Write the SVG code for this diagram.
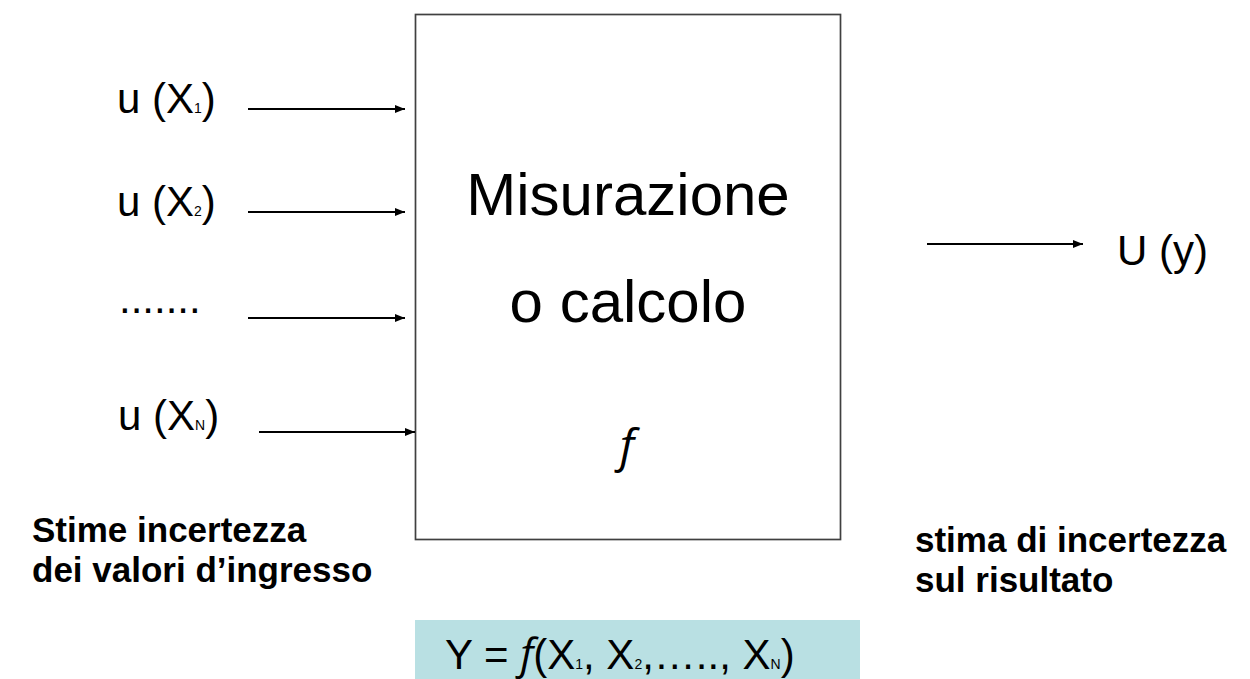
<svg xmlns="http://www.w3.org/2000/svg" width="1250" height="679" viewBox="0 0 1250 679">
<defs>
<marker id="ah" markerWidth="10" markerHeight="8" refX="10" refY="4" orient="auto" markerUnits="userSpaceOnUse">
<path d="M0,0 L10,4 L0,8 Z" fill="#000"/>
</marker>
<style>
.lbl{font-family:"Liberation Sans",Arial,sans-serif;font-size:42px;fill:#000}
.sub{font-size:14px}
.big{font-family:"Liberation Sans",Arial,sans-serif;font-size:60px;fill:#000;text-anchor:middle}
.bold{font-family:"Liberation Sans",Arial,sans-serif;font-size:35px;font-weight:bold;fill:#000}
.fi{font-family:"Open Sans","DejaVu Sans",sans-serif;font-style:italic}
.conn{stroke:#000;stroke-width:1.8;fill:none;marker-end:url(#ah)}
</style>
</defs>
<rect width="1250" height="679" fill="#fff"/>
<g id="block">
<rect x="415.5" y="14.5" width="425" height="525" fill="#fff" stroke="#404040" stroke-width="1.7"/>
<text class="big" x="628" y="215">Misurazione</text>
<text class="big" x="628" y="322">o calcolo</text>
<text class="fi" x="627" y="462" font-size="46" text-anchor="middle">f</text>
</g>
<g id="in1"><text class="lbl" x="117" y="113">u (X<tspan class="sub">1</tspan>)</text></g>
<g id="in2"><text class="lbl" x="117" y="216">u (X<tspan class="sub">2</tspan>)</text></g>
<g id="in3"><text class="lbl" x="119" y="313" font-size="40">.......</text></g>
<g id="inN"><text class="lbl" x="118" y="430">u (X<tspan class="sub">N</tspan>)</text></g>
<g id="out"><text class="lbl" x="1117" y="265">U (y)</text></g>
<g id="note-in">
<text class="bold" x="32" y="542">Stime incertezza</text>
<text class="bold" x="32" y="582">dei valori d’ingresso</text>
</g>
<g id="note-out">
<text class="bold" x="915" y="552">stima di incertezza</text>
<text class="bold" x="915" y="592">sul risultato</text>
</g>
<g id="formula">
<rect x="415" y="620" width="445" height="59" fill="#B9E0E3"/>
<text class="lbl" x="445" y="669" font-size="40">Y = <tspan class="fi">f</tspan>(X<tspan class="sub">1</tspan>, X<tspan class="sub">2</tspan>,….., X<tspan class="sub">N</tspan>)</text>
</g>
<g id="connectors">
<line class="conn" x1="248" y1="109" x2="405" y2="109"/>
<line class="conn" x1="248" y1="212" x2="405" y2="212"/>
<line class="conn" x1="248" y1="318" x2="405" y2="318"/>
<line class="conn" x1="259" y1="432" x2="415" y2="432"/>
<line class="conn" x1="927" y1="244" x2="1083" y2="244"/>
</g>
</svg>
